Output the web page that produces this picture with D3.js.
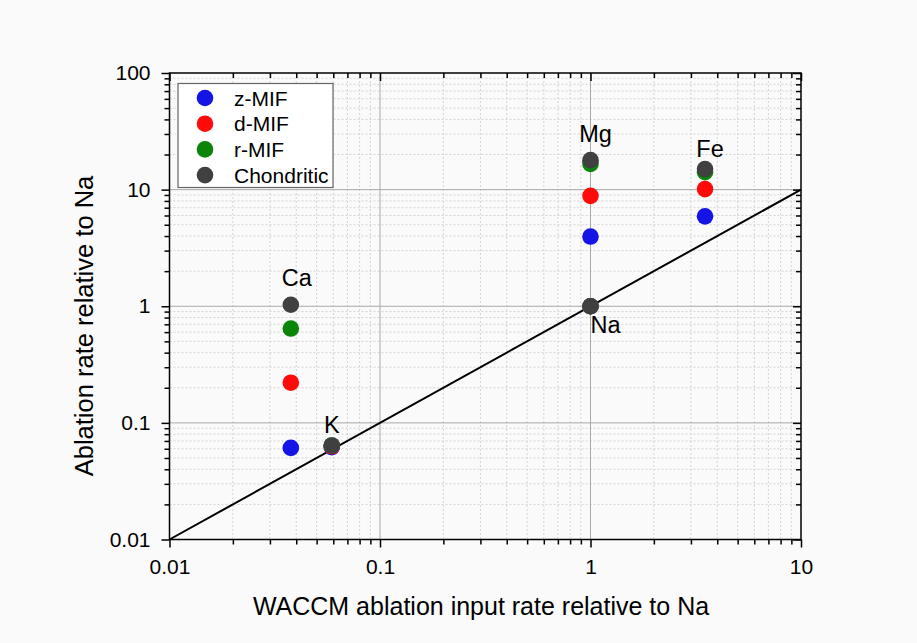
<!DOCTYPE html>
<html>
<head>
<meta charset="utf-8">
<script src="https://cdn.jsdelivr.net/npm/d3@7"></script>
<style>
  body { margin: 0; background: #fafafa; }
  svg { display: block; font-family: "Liberation Sans", Arial, sans-serif; }
</style>
</head>
<body>
<div id="chart"></div>
<script>
// --data--
const elements = ["Ca", "K", "Na", "Mg", "Fe"];
const waccmInput = [0.0377, 0.059, 1, 1, 3.5];
const zMIF = [0.061, 0.062, 1, 3.96, 5.9];
const dMIF = [0.221, 0.063, 1, 8.84, 10.1];
const rMIF = [0.644, 0.064, 1, 16.6, 14.1];
const chondritic = [1.03, 0.064, 1, 17.9, 15.0];

const seriesNames = ["z-MIF", "d-MIF", "r-MIF", "Chondritic"];
const seriesValues = [zMIF, dMIF, rMIF, chondritic];
const seriesColors = ["#1414e6", "#ff0a0a", "#0a850a", "#404040"];

const xTickValues = [0.01, 0.1, 1, 10];
const xTickLabels = ["0.01", "0.1", "1", "10"];
const yTickValues = [0.01, 0.1, 1, 10, 100];
const yTickLabels = ["0.01", "0.1", "1", "10", "100"];

// --layout--
const W = 917, H = 643;
const pLeft = 169.5, pRight = 801, pTop = 73, pBottom = 539.5;

const svg = d3.select("#chart").append("svg")
  .attr("width", W)
  .attr("height", H);

const x = d3.scaleLog().domain([0.01, 10]).range([pLeft, pRight]);
const y = d3.scaleLog().domain([0.01, 100]).range([pBottom, pTop]);

function minorTicks(domain) {
  var out = [];
  for (var e = Math.round(Math.log10(domain[0])); e < Math.round(Math.log10(domain[1])); e++) {
    for (var k = 2; k <= 9; k++) out.push(k * Math.pow(10, e));
  }
  return out;
}
const xMinor = minorTicks(x.domain());
const yMinor = minorTicks(y.domain());

// grid
const grid = svg.append("g");
grid.selectAll(".xminor").data(xMinor).enter().append("line")
  .attr("x1", d => x(d)).attr("x2", d => x(d))
  .attr("y1", pTop).attr("y2", pBottom)
  .attr("stroke", "#d4d4d4").attr("stroke-dasharray", "2,2");
grid.selectAll(".yminor").data(yMinor).enter().append("line")
  .attr("y1", d => y(d)).attr("y2", d => y(d))
  .attr("x1", pLeft).attr("x2", pRight)
  .attr("stroke", "#d4d4d4").attr("stroke-dasharray", "2,2");
grid.selectAll(".xmajor").data(xTickValues.slice(1, -1)).enter().append("line")
  .attr("x1", d => x(d)).attr("x2", d => x(d))
  .attr("y1", pTop).attr("y2", pBottom)
  .attr("stroke", "#a8a8a8");
grid.selectAll(".ymajor").data(yTickValues.slice(1, -1)).enter().append("line")
  .attr("y1", d => y(d)).attr("y2", d => y(d))
  .attr("x1", pLeft).attr("x2", pRight)
  .attr("stroke", "#a8a8a8");

// axes
function styleAxis(g) {
  g.select(".domain").remove();
  g.selectAll(".tick line").attr("stroke", "#000").attr("stroke-width", 1.5);
  g.selectAll(".tick text").attr("fill", "#000").style("font-size", "21px");
}

svg.append("g").attr("transform", `translate(0,${pBottom})`)
  .call(d3.axisBottom(x).tickValues(xTickValues).tickSize(8).tickPadding(12)
    .tickFormat((d, i) => xTickLabels[i]))
  .call(styleAxis);
svg.append("g").attr("transform", `translate(0,${pBottom})`)
  .call(d3.axisBottom(x).tickValues(xMinor).tickSize(5).tickFormat(""))
  .call(styleAxis);
svg.append("g").attr("transform", `translate(${pLeft},0)`)
  .call(d3.axisLeft(y).tickValues(yTickValues).tickSize(8).tickPadding(11)
    .tickFormat((d, i) => yTickLabels[i]))
  .call(styleAxis);
svg.append("g").attr("transform", `translate(${pLeft},0)`)
  .call(d3.axisLeft(y).tickValues(yMinor).tickSize(5).tickFormat(""))
  .call(styleAxis);
svg.append("g").attr("transform", `translate(0,${pTop})`)
  .call(d3.axisTop(x).tickValues(xTickValues).tickSize(-8).tickFormat(""))
  .call(styleAxis);
svg.append("g").attr("transform", `translate(0,${pTop})`)
  .call(d3.axisTop(x).tickValues(xMinor).tickSize(-5).tickFormat(""))
  .call(styleAxis);
svg.append("g").attr("transform", `translate(${pRight},0)`)
  .call(d3.axisRight(y).tickValues(yTickValues).tickSize(-8).tickFormat(""))
  .call(styleAxis);
svg.append("g").attr("transform", `translate(${pRight},0)`)
  .call(d3.axisRight(y).tickValues(yMinor).tickSize(-5).tickFormat(""))
  .call(styleAxis);

svg.append("rect")
  .attr("x", pLeft).attr("y", pTop)
  .attr("width", pRight - pLeft).attr("height", pBottom - pTop)
  .attr("fill", "none").attr("stroke", "#000").attr("stroke-width", 1.5);

// 1:1 line
svg.append("path")
  .datum([x.domain()[0], x.domain()[1]])
  .attr("d", d3.line().x(d => x(d)).y(d => y(d)))
  .attr("stroke", "#000").attr("stroke-width", 2).attr("fill", "none");

// points
seriesValues.forEach(function(vals, s) {
  svg.append("g").selectAll("circle")
    .data(vals.map((v, i) => [waccmInput[i], v]))
    .enter().append("circle")
    .attr("cx", d => x(d[0]))
    .attr("cy", d => y(d[1]))
    .attr("r", 8.3)
    .attr("fill", seriesColors[s]);
});

// element labels
const labelPlace = {
  "Ca": {dx: 6, dy: -19, anchor: "middle"},
  "K":  {dx: 0, dy: -12, anchor: "middle"},
  "Na": {dx: 0, dy: 27, anchor: "start"},
  "Mg": {dx: 5, dy: -18, anchor: "middle"},
  "Fe": {dx: 5, dy: -12, anchor: "middle"}
};
svg.append("g").selectAll("text")
  .data(elements)
  .enter().append("text")
  .attr("x", (d, i) => x(waccmInput[i]) + labelPlace[d].dx)
  .attr("y", (d, i) => y(chondritic[i]) + labelPlace[d].dy)
  .attr("text-anchor", d => labelPlace[d].anchor)
  .style("font-size", "23.5px")
  .text(d => d);

// legend
const legend = svg.append("g");
legend.append("rect")
  .attr("x", 178).attr("y", 83.5)
  .attr("width", 155).attr("height", 104)
  .attr("fill", "#fff").attr("stroke", "#666").attr("stroke-width", 1.2);
seriesNames.forEach(function(name, i) {
  var row = legend.append("g").attr("transform", `translate(0,${98 + i * 25.7})`);
  row.append("circle").attr("cx", 205).attr("cy", 0).attr("r", 8.3).attr("fill", seriesColors[i]);
  row.append("text").attr("x", 234).attr("y", 7.5).style("font-size", "21px").text(name);
});

// axis titles
svg.append("text")
  .attr("x", 481).attr("y", 615)
  .attr("text-anchor", "middle")
  .style("font-size", "25px")
  .text("WACCM ablation input rate relative to Na");
svg.append("text")
  .attr("transform", "translate(93,326) rotate(-90)")
  .attr("text-anchor", "middle")
  .style("font-size", "25.5px")
  .text("Ablation rate relative to Na");
</script>
</body>
</html>
